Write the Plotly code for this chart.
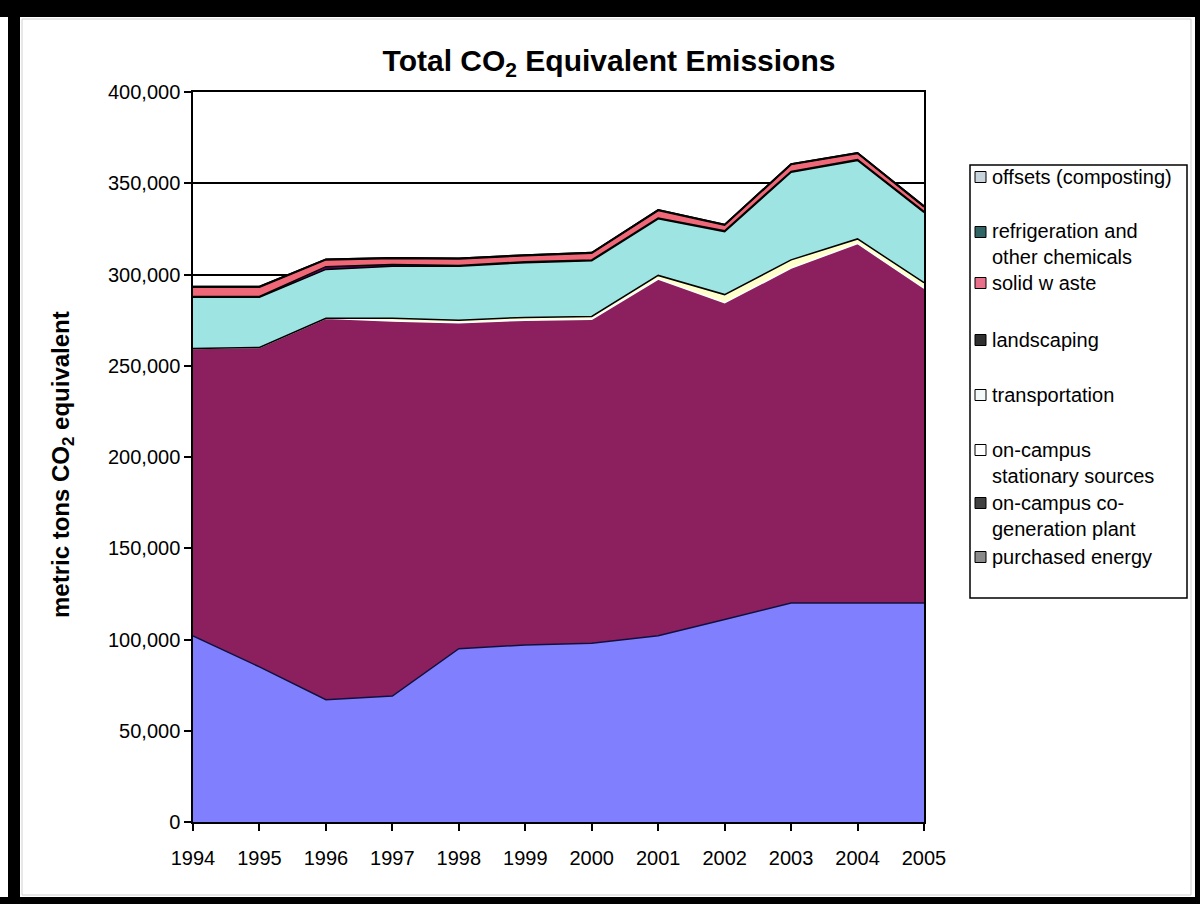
import plotly.graph_objects as go

# ---------------- data (metric tons CO2 equivalent) ----------------
years = [1994, 1995, 1996, 1997, 1998, 1999, 2000, 2001, 2002, 2003, 2004, 2005]

purchased_energy = [102000, 85000, 67000, 69000, 95000, 97000, 98000, 102000, 111000, 120000, 120000, 120000]
cogeneration     = [157500, 175000, 209000, 205500, 178500, 178000, 177500, 195500, 173500, 183500, 197000, 172500]
stationary       = [0, 0, 0, 1500, 1500, 1500, 1500, 2000, 4500, 4500, 2500, 3000]
transportation   = [28000, 27500, 26800, 28500, 29500, 30000, 30500, 31000, 34500, 48000, 43000, 38500]
landscaping      = [500, 500, 1500, 1000, 500, 500, 500, 500, 500, 500, 500, 500]
solid_waste      = [5000, 5000, 3700, 3300, 3500, 3300, 3600, 4000, 3000, 3700, 3300, 2600]
refrigeration    = [400, 400, 400, 400, 400, 400, 400, 400, 400, 400, 400, 400]
offsets          = [0, 0, 0, 0, 0, 0, 0, 0, 0, 0, 0, 0]

series_names = ["purchased energy", "on-campus co-generation plant", "on-campus stationary sources",
                "transportation", "landscaping", "solid waste",
                "refrigeration and other chemicals", "offsets (composting)"]
series_values = [purchased_energy, cogeneration, stationary, transportation,
                 landscaping, solid_waste, refrigeration, offsets]
fill_colors = ["#8080FF", "#8C1F5E", "#FFFFCC", "#9EE4E2", "#660066", "#F06878", "#0066CC", "#CCCCFF"]
line_colors = ["#101040", "#FFFFFF", "#000000", "#000000", "#000000", "#000000", "#000000", "#000000"]

legend_labels = ["offsets (composting)", "refrigeration and<br>other chemicals", "solid w aste",
                 "landscaping", "transportation", "on-campus<br>stationary sources",
                 "on-campus co-<br>generation plant", "purchased energy"]
legend_swatch = ["#C8D4DC", "#2F6464", "#E8708A", "#303030", "#F4FAFA", "#FFFFFF", "#404040", "#8A8A8A"]

y_ticks = [0, 50000, 100000, 150000, 200000, 250000, 300000, 350000, 400000]

# ---------------- layout geometry (pixels) ----------------
W, H = 1200, 904
L, R, T, B = 193, 924, 92, 822


def px(x):
    return (x - L) / (R - L)


def py(y):
    return (B - y) / (B - T)


fig = go.Figure()
for name, vals, fc, lc in zip(series_names, series_values, fill_colors, line_colors):
    fig.add_trace(go.Scatter(
        x=years, y=vals, name=name, stackgroup="one", mode="lines",
        line=dict(color=lc, width=1.5), fillcolor=fc, showlegend=False,
    ))

font_family = "Arial, Liberation Sans, sans-serif"

fig.update_layout(
    width=W, height=H,
    margin=dict(l=L, r=W - R, t=T, b=H - B),
    paper_bgcolor="white", plot_bgcolor="white",
    showlegend=False,
    font=dict(family=font_family, color="black", size=20),
    title=dict(text="<b>Total CO<sub>2</sub> Equivalent Emissions</b>",
               x=609 / W, xref="container", xanchor="center",
               y=1 - 60 / H, yref="container", yanchor="middle",
               font=dict(size=30, family=font_family, color="black")),
    xaxis=dict(range=[1994, 2005], tickvals=years, ticktext=[str(y) for y in years],
               showgrid=False, zeroline=False, showline=True, linecolor="black", linewidth=1.5,
               mirror=True,
               ticks="outside", ticklen=7, tickcolor="black", tickwidth=1.5,
               ticklabelstandoff=10, tickfont=dict(size=20)),
    yaxis=dict(range=[0, 400000], tickvals=y_ticks, tickformat=",d",
               showgrid=True, gridcolor="black", gridwidth=1.5, zeroline=False,
               showline=True, linecolor="black", linewidth=1.5, mirror=True,
               ticks="outside", ticklen=7, tickcolor="black", tickwidth=1.5,
               tickfont=dict(size=20)),
)

shapes = []
# black outer frame
shapes.append(dict(type="rect", xref="paper", yref="paper", x0=px(0), x1=px(W), y0=py(0), y1=py(17),
                   fillcolor="black", line=dict(width=0), layer="above"))
shapes.append(dict(type="rect", xref="paper", yref="paper", x0=px(8), x1=px(20), y0=py(0), y1=py(H),
                   fillcolor="black", line=dict(width=0), layer="above"))
shapes.append(dict(type="rect", xref="paper", yref="paper", x0=px(0), x1=px(W), y0=py(897), y1=py(H),
                   fillcolor="black", line=dict(width=0), layer="above"))
shapes.append(dict(type="rect", xref="paper", yref="paper", x0=px(1195), x1=px(W), y0=py(0), y1=py(H),
                   fillcolor="black", line=dict(width=0), layer="above"))
# light chart-area border
shapes.append(dict(type="rect", xref="paper", yref="paper", x0=px(22), x1=px(1191), y0=py(19), y1=py(895),
                   fillcolor="rgba(0,0,0,0)", line=dict(color="#D0D0D0", width=1), layer="below"))
# legend box
shapes.append(dict(type="rect", xref="paper", yref="paper", x0=px(970), x1=px(1187), y0=py(165), y1=py(598),
                   fillcolor="white", line=dict(color="black", width=1.5), layer="above"))

annotations = []
# y axis title
annotations.append(dict(text="<b>metric tons CO<sub>2</sub> equivalent</b>", textangle=-90,
                        xref="paper", yref="paper", x=px(63), y=py(465),
                        xanchor="center", yanchor="middle", showarrow=False,
                        font=dict(size=24, family=font_family, color="black")))

legend_swatch_y = [177, 232, 283, 340, 395, 450, 503, 557]
legend_text_y = [177, 244.5, 283, 340, 395, 462.5, 515.5, 557]
for lab, sw, sy, ty in zip(legend_labels, legend_swatch, legend_swatch_y, legend_text_y):
    shapes.append(dict(type="rect", xref="paper", yref="paper", x0=px(975), x1=px(986),
                       y0=py(sy - 5.5), y1=py(sy + 5.5), fillcolor=sw,
                       line=dict(color="black", width=1), layer="above"))
    annotations.append(dict(text=lab, xref="paper", yref="paper", x=px(990), y=py(ty),
                            xanchor="left", yanchor="middle", align="left", showarrow=False,
                            font=dict(size=20, family=font_family, color="black")))

fig.update_layout(shapes=shapes, annotations=annotations)

fig.write_html("out.html")
